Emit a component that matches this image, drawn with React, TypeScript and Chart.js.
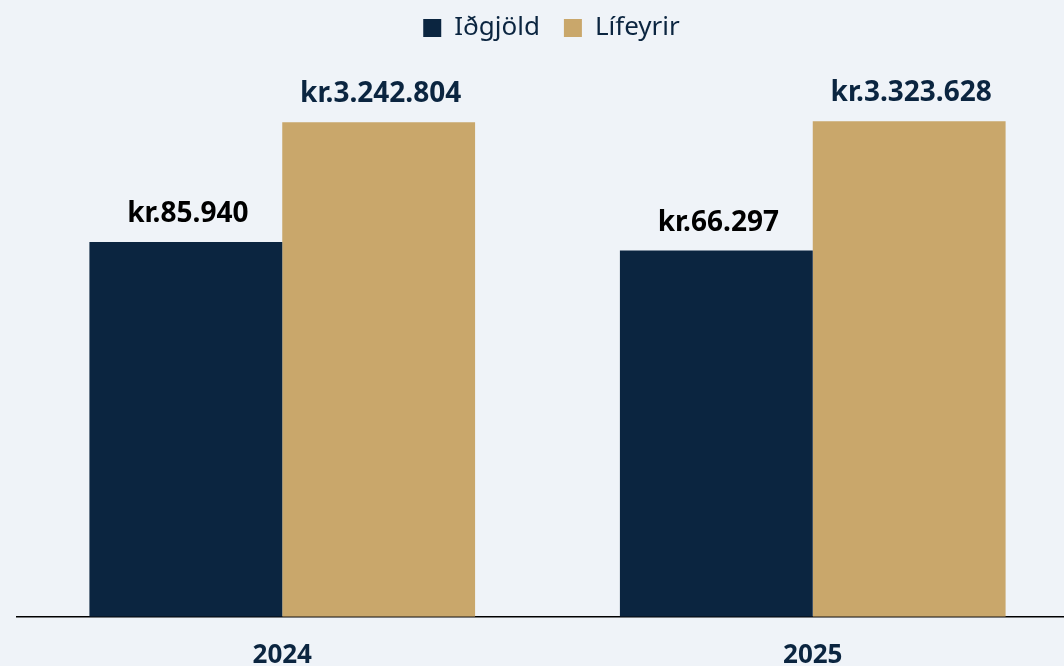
import React, { useEffect, useRef } from "react";
import { Chart, registerables } from "chart.js";

Chart.register(...registerables);

// ---- data ----
const categories = ["2024", "2025"];
const seriesNames = ["Iðgjöld", "Lífeyrir"];
const idgjold = [85940, 66297];
const lifeyrir = [3242804, 3323628];
const yMin = 1;
const yMax = 10000000;

// ---- styles ----
const NAVY = "#0B2540";
const GOLD = "#C9A76B";
const BG = "#EFF3F8";
const FONT = "'Noto Sans', 'DejaVu Sans', sans-serif";

function fmt(v: number): string {
  return "kr." + String(v).replace(/\B(?=(\d{3})+(?!\d))/g, ".");
}

const bgPlugin = {
  id: "bgFill",
  beforeDraw(chart: any) {
    const { ctx, width, height } = chart;
    ctx.save();
    ctx.fillStyle = BG;
    ctx.fillRect(0, 0, width, height);
    ctx.restore();
  },
};

// extra space under the legend, and a small horizontal nudge of the legend
const legendTweakPlugin = {
  id: "legendTweak",
  beforeInit(chart: any) {
    const legend = chart.legend;
    if (!legend) return;
    const origFit = legend.fit;
    legend.fit = function () {
      origFit.bind(legend)();
      this.height += 34;
    };
    const origDraw = legend.draw;
    legend.draw = function () {
      const ctx = this.ctx;
      ctx.save();
      ctx.translate(4, 0);
      origDraw.call(this);
      ctx.restore();
    };
  },
};

const valueLabels = {
  id: "valueLabels",
  afterDatasetsDraw(chart: any) {
    const ctx = chart.ctx;
    ctx.save();
    ctx.font = `bold 28px ${FONT}`;
    ctx.textAlign = "center";
    ctx.textBaseline = "alphabetic";
    chart.data.datasets.forEach((ds: any, di: number) => {
      const meta = chart.getDatasetMeta(di);
      ctx.fillStyle = di === 0 ? "#000000" : NAVY;
      meta.data.forEach((el: any, i: number) => {
        ctx.fillText(fmt(ds.data[i]), el.x + 2, el.y - 20);
      });
    });
    ctx.restore();
  },
};

export default function App() {
  const ref = useRef<HTMLCanvasElement>(null);

  useEffect(() => {
    const html = document.documentElement;
    html.style.background = BG;
    html.style.overflow = "hidden";
    document.body.style.background = BG;
    document.body.style.overflow = "hidden";

    Chart.defaults.font.family = FONT;
    const chart = new Chart(ref.current as HTMLCanvasElement, {
      type: "bar",
      data: {
        labels: categories,
        datasets: [
          {
            label: seriesNames[0],
            data: idgjold,
            backgroundColor: NAVY,
            categoryPercentage: 0.727,
            barPercentage: 1,
          },
          {
            label: seriesNames[1],
            data: lifeyrir,
            backgroundColor: GOLD,
            categoryPercentage: 0.727,
            barPercentage: 1,
          },
        ],
      },
      options: {
        animation: false,
        responsive: true,
        maintainAspectRatio: false,
        layout: { padding: { left: 17, right: 48, top: 0, bottom: 0 } },
        plugins: {
          legend: {
            position: "top",
            labels: {
              boxWidth: 18,
              boxHeight: 18,
              padding: 24,
              color: NAVY,
              font: { size: 26 },
            },
          },
          tooltip: { enabled: false },
        },
        scales: {
          x: {
            grid: { display: false, drawTicks: false },
            border: { display: true, color: "#000000", width: 1.5 },
            ticks: {
              color: NAVY,
              font: { size: 26, weight: "bold" },
              padding: 23,
            },
          },
          y: {
            type: "logarithmic",
            min: yMin,
            max: yMax,
            bounds: "data",
            display: false,
          },
        },
      },
      plugins: [bgPlugin, legendTweakPlugin, valueLabels],
    });
    return () => chart.destroy();
  }, []);

  return (
    <div
      style={{
        position: "absolute",
        left: 0,
        top: -9,
        width: 1126,
        height: 703,
      }}
    >
      <canvas ref={ref} />
    </div>
  );
}
